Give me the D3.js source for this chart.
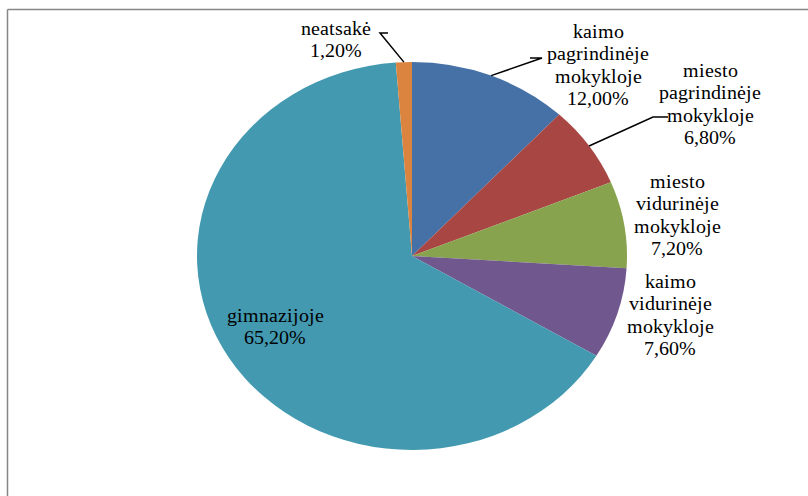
<!DOCTYPE html>
<html>
<head>
<meta charset="utf-8">
<script src="https://cdn.jsdelivr.net/npm/d3@7"></script>
<style>
@font-face {
  font-family: "LblSerif";
  src: local("Liberation Serif"), local("LiberationSerif-Regular"), local("LiberationSerif"), local("Tinos"), local("Times New Roman");
}
body { margin: 0; }
#chart text.lbl { font-family: "LblSerif", "Liberation Serif", "Tinos", "Times New Roman", serif !important; font-size: 20px !important; fill: #000; }
</style>
</head>
<body>
<svg id="chart" width="808" height="496"></svg>
<script>
// ---- data ----
const categories = ["kaimo pagrindinėje mokykloje", "miesto pagrindinėje mokykloje", "miesto vidurinėje mokykloje", "kaimo vidurinėje mokykloje", "gimnazijoje", "neatsakė"];
const labelLines = [
  ["kaimo", "pagrindinėje", "mokykloje"],
  ["miesto", "pagrindinėje", "mokykloje"],
  ["miesto", "vidurinėje", "mokykloje"],
  ["kaimo", "vidurinėje", "mokykloje"],
  ["gimnazijoje"],
  ["neatsakė"]
];
const values = [12.0, 6.8, 7.2, 7.6, 65.2, 1.2];
const colors = ["#4571A6", "#A84643", "#88A34E", "#70588E", "#4399B0", "#DA843F"];

// ---- layout ----
const cx = 412, cy = 256, rx = 215, ry = 194;
const labelLayout = [
  {x: 598, y: 38, leader: {x1: 542, y1: 58, x2: 530, y2: 58}},
  {x: 710, y: 77, leader: {x1: 653, y1: 117, x2: 668, y2: 117}},
  {x: 677, y: 188},
  {x: 670, y: 288},
  {x: 275, y: 322},
  {x: 336, y: 35, leader: {x1: 380, y1: 33, x2: 388, y2: 33}}
];
const lineH = 22.3;

const svg = d3.select("#chart");

svg.append("line").attr("x1", 7.5).attr("y1", 9.5).attr("x2", 808).attr("y2", 9.5)
  .attr("stroke", "#868686").attr("stroke-width", 1.5);
svg.append("line").attr("x1", 7.5).attr("y1", 9.5).attr("x2", 7.5).attr("y2", 496)
  .attr("stroke", "#868686").attr("stroke-width", 1.5);

const pie = d3.pie().sort(null).value(d => d)(values);
const arc = d3.arc().innerRadius(0).outerRadius(ry);

const g = svg.append("g").attr("transform", `translate(${cx},${cy}) scale(${rx / ry},1)`);
g.selectAll("path").data(pie).join("path")
  .attr("d", arc)
  .attr("fill", (d, i) => colors[i]);

pie.forEach((d, i) => {
  const L = labelLayout[i].leader;
  if (!L) return;
  const mid = (d.startAngle + d.endAngle) / 2;
  const px = cx + Math.sin(mid) * rx;
  const py = cy - Math.cos(mid) * ry;
  svg.append("polyline")
    .attr("points", `${L.x2},${L.y2} ${L.x1},${L.y1} ${px},${py}`)
    .attr("fill", "none").attr("stroke", "#000").attr("stroke-width", 1.5);
});

const fmt = v => d3.format(".2f")(v).replace(".", ",") + "%";
labelLines.forEach((lines, i) => {
  const L = labelLayout[i];
  lines.concat([fmt(values[i])]).forEach((s, j) => {
    svg.append("text")
      .attr("class", "lbl")
      .attr("x", L.x)
      .attr("y", L.y + j * lineH)
      .attr("text-anchor", "middle")
      .text(s);
  });
});
</script>
</body>
</html>
